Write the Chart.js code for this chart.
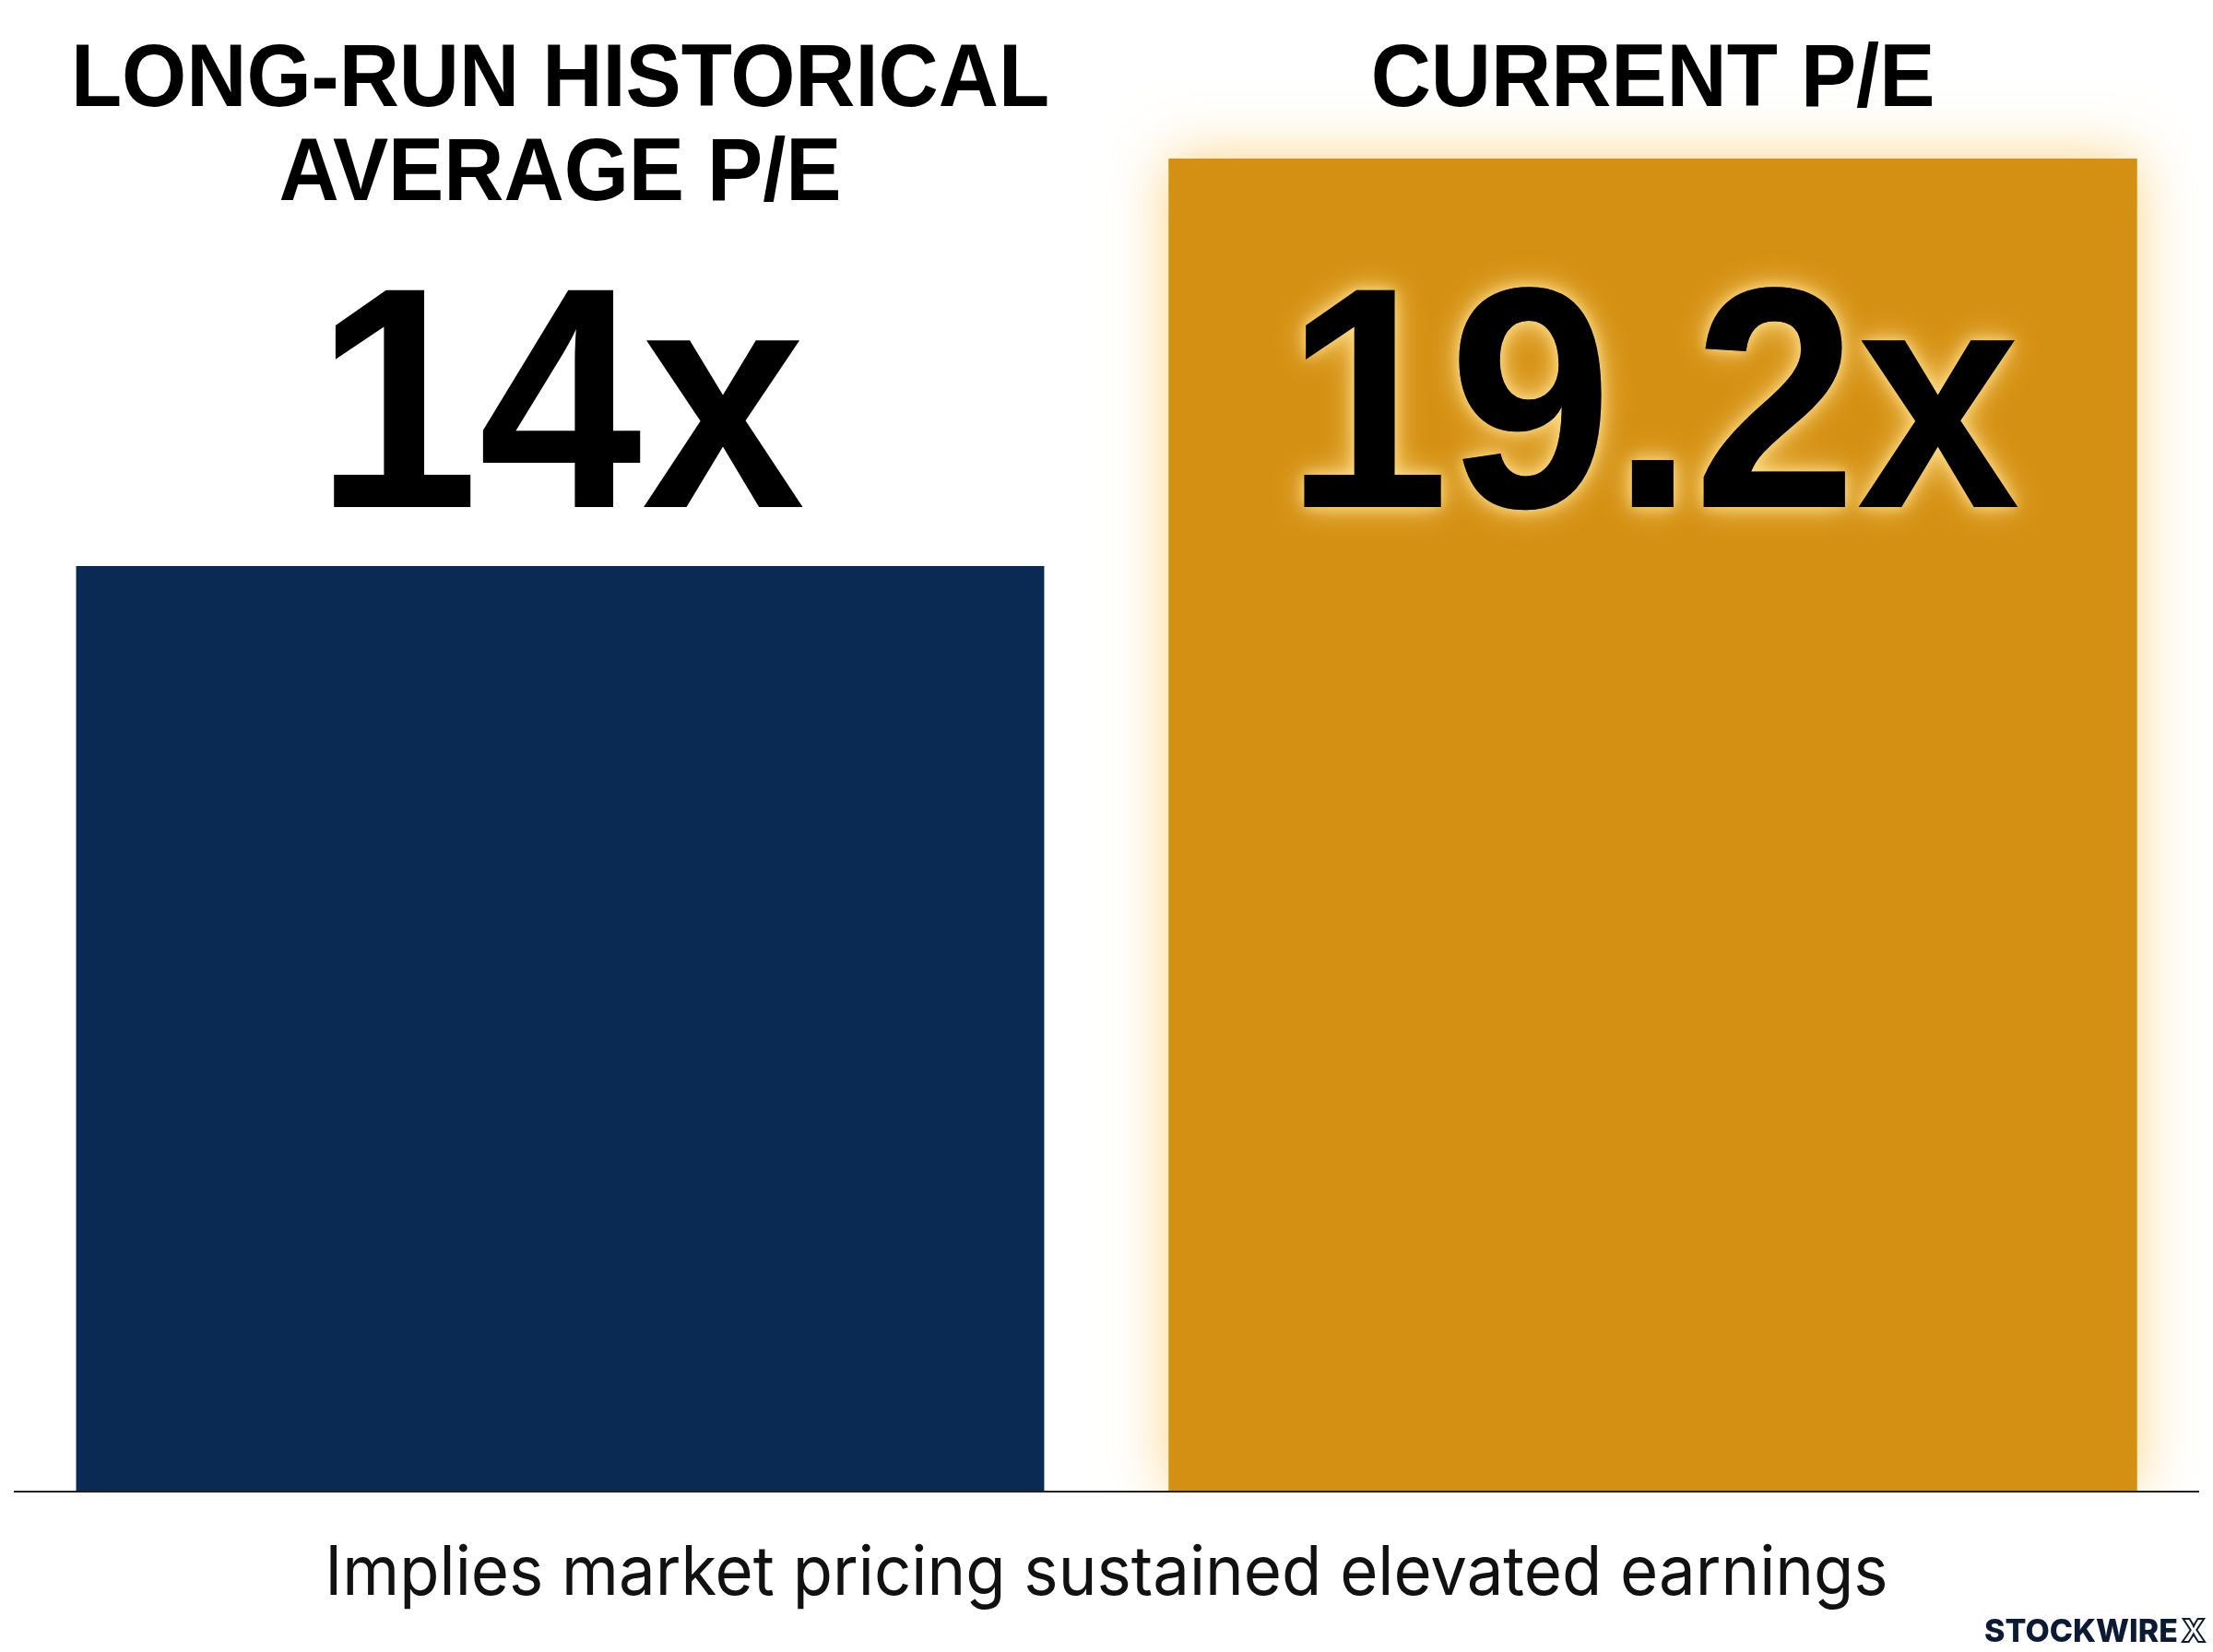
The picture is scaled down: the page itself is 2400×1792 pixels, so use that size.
<!DOCTYPE html>
<html>
<head>
<meta charset="utf-8">
<script src="https://cdn.jsdelivr.net/npm/chart.js@4.4.1/dist/chart.umd.min.js"></script>
<style>
  html, body { margin: 0; padding: 0; background: #ffffff; }
  #wrap { width: 2400px; height: 1792px; position: relative; }
  canvas { display: block; }
</style>
</head>
<body>
<div id="wrap"><canvas id="c" width="2400" height="1792"></canvas></div>
<script>
const categories = [["LONG-RUN HISTORICAL", "AVERAGE P/E"], ["CURRENT P/E"]];
const peValues = [14, 19.2];
const valueLabels = ["14x", "19.2x"];
const barColors = ["#0a2a54", "#d49012"];
const caption = "Implies market pricing sustained elevated earnings";
const brand = "STOCKWIRE";

const TITLE_FONT = '"Liberation Sans", Arial, sans-serif';

function drawCondensed(ctx, text, x, y, sx) {
  ctx.save();
  ctx.translate(x, y);
  ctx.scale(sx, 1);
  ctx.fillText(text, 0, 0);
  ctx.restore();
}

const glowPlugin = {
  id: 'glow',
  beforeDatasetsDraw(chart) {
    const ctx = chart.ctx;
    const area = chart.chartArea;
    const meta = chart.getDatasetMeta(0);
    const bar = meta.data[1];
    const w = bar.width;
    ctx.save();
    ctx.beginPath();
    ctx.rect(0, 0, chart.width, area.bottom);
    ctx.clip();
    ctx.shadowColor = 'rgba(252, 196, 90, 0.75)';
    ctx.shadowBlur = 60;
    ctx.fillStyle = barColors[1];
    ctx.fillRect(bar.x - w / 2, bar.y, w, area.bottom - bar.y);
    ctx.restore();
  },
  afterDatasetsDraw(chart) {
    const ctx = chart.ctx;
    const meta = chart.getDatasetMeta(0);
    const area = chart.chartArea;
    // baseline
    ctx.save();
    ctx.strokeStyle = '#222222';
    ctx.lineWidth = 2;
    ctx.beginPath();
    ctx.moveTo(area.left, area.bottom + 1);
    ctx.lineTo(area.right, area.bottom + 1);
    ctx.stroke();
    ctx.restore();

    const maxTop = Math.max(...meta.data.map(b => b.y));
    const valueBaseline = maxTop - 64;

    meta.data.forEach((bar, i) => {
      // category titles
      ctx.save();
      ctx.fillStyle = '#000000';
      ctx.font = 'bold 96px ' + TITLE_FONT;
      ctx.textAlign = 'center';
      ctx.textBaseline = 'alphabetic';
      categories[i].forEach((line, j) => {
        drawCondensed(ctx, line, bar.x, 115 + j * 102, 0.94);
      });
      ctx.restore();

      // value labels
      ctx.save();
      ctx.font = 'bold 342px ' + TITLE_FONT;
      ctx.textAlign = 'center';
      ctx.textBaseline = 'alphabetic';
      ctx.fillStyle = '#000000';
      if (bar.y < valueBaseline) {
        ctx.shadowColor = 'rgba(255, 222, 140, 0.95)';
        ctx.shadowBlur = 34;
        drawCondensed(ctx, valueLabels[i], bar.x, valueBaseline, 0.93);
        ctx.shadowBlur = 14;
        drawCondensed(ctx, valueLabels[i], bar.x, valueBaseline, 0.93);
      } else {
        drawCondensed(ctx, valueLabels[i], bar.x, valueBaseline, 0.93);
      }
      ctx.restore();
    });

    // caption
    ctx.save();
    ctx.fillStyle = '#111111';
    ctx.font = '400 74px Inter, "Noto Sans", sans-serif';
    ctx.textAlign = 'center';
    ctx.textBaseline = 'alphabetic';
    drawCondensed(ctx, caption, chart.width / 2, 1730, 0.955);
    ctx.restore();

    // brand
    ctx.save();
    ctx.fillStyle = '#0d1a33';
    ctx.font = '800 34px Inter, "Noto Sans", sans-serif';
    ctx.textAlign = 'right';
    ctx.textBaseline = 'alphabetic';
    ctx.fillText(brand, 2362, 1781);
    ctx.strokeStyle = '#0d1a33';
    ctx.lineWidth = 2;
    ctx.textAlign = 'left';
    ctx.strokeText('X', 2366, 1781);
    ctx.restore();
  }
};

new Chart(document.getElementById('c'), {
  type: 'bar',
  data: {
    labels: categories,
    datasets: [{
      data: peValues,
      backgroundColor: barColors,
      borderWidth: 0,
      barPercentage: 0.886,
      categoryPercentage: 1.0
    }]
  },
  options: {
    responsive: false,
    animation: false,
    devicePixelRatio: 1,
    layout: { padding: { top: 172, bottom: 175, left: 15, right: 15 } },
    plugins: { legend: { display: false }, tooltip: { enabled: false }, title: { display: false } },
    scales: {
      x: { display: false },
      y: { display: false, min: 2.2, max: 19.2 }
    }
  },
  plugins: [glowPlugin]
});
</script>
</body>
</html>
